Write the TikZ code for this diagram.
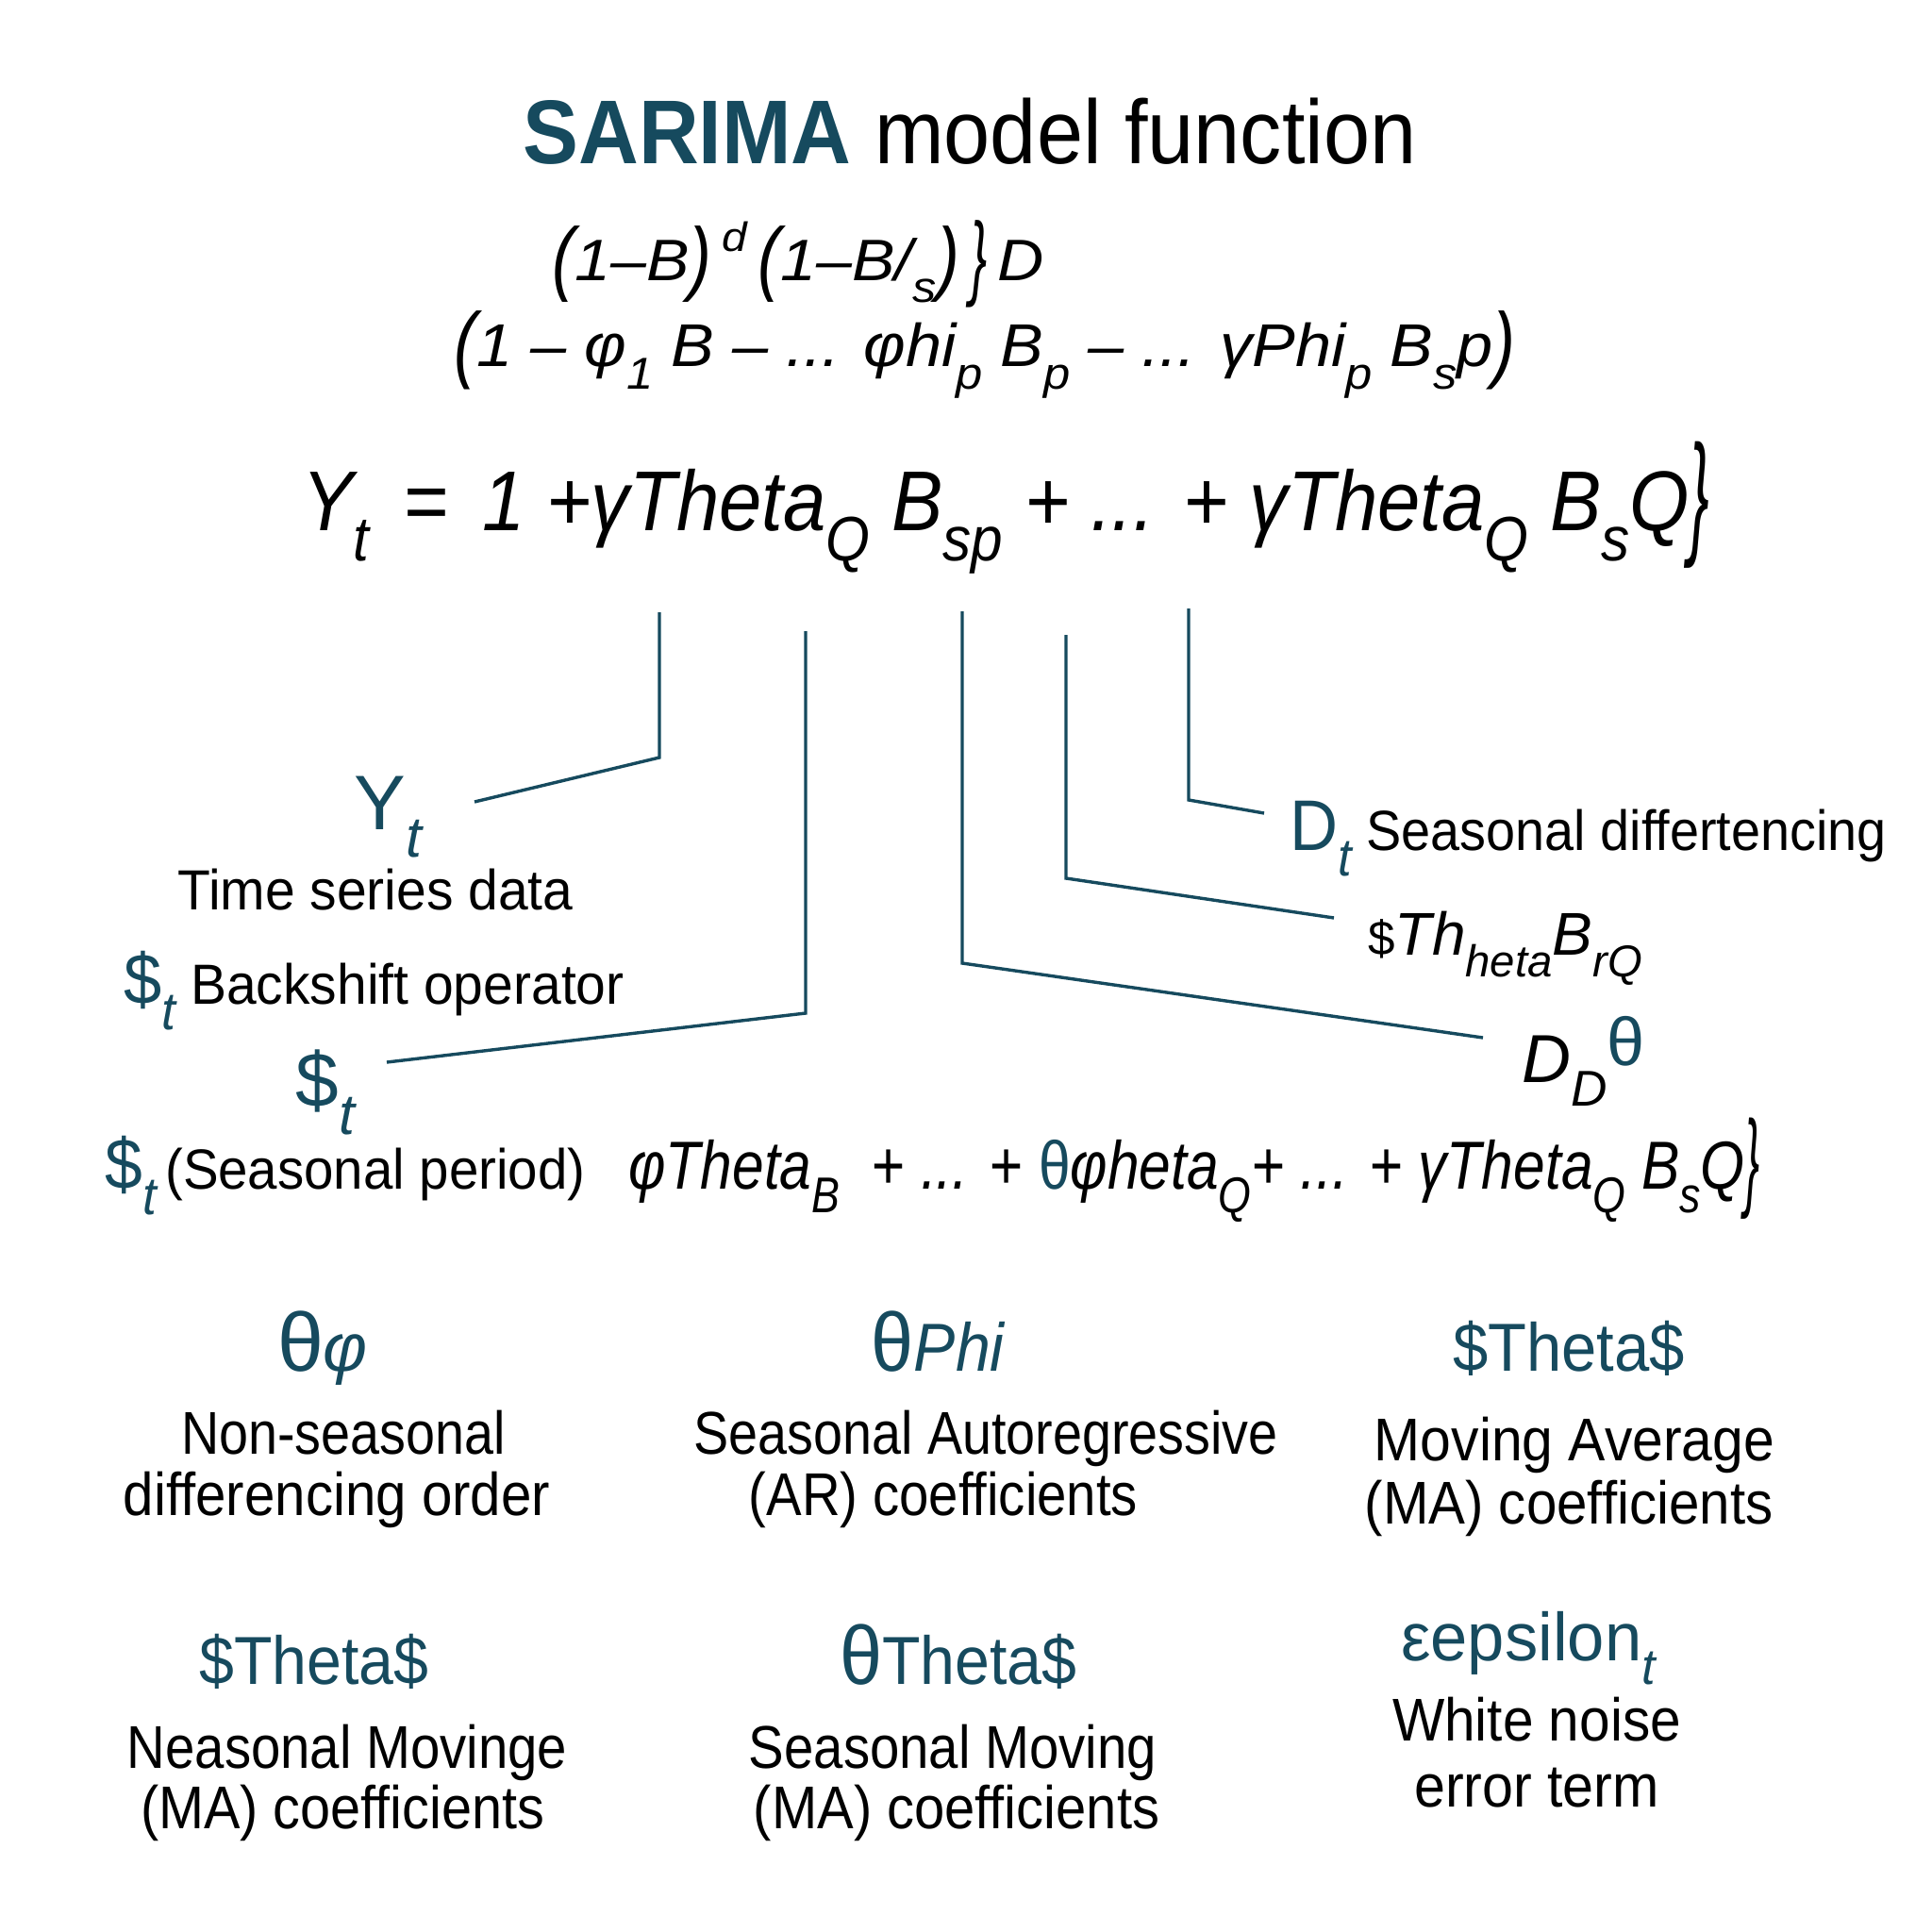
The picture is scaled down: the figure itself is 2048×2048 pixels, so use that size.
\documentclass[tikz,border=0pt]{standalone}
\usepackage{fontspec}
\setmainfont{Liberation Sans}
\usepackage{graphicx}
\definecolor{ink}{HTML}{164A5E}
\newcommand{\dn}[1]{\raisebox{-0.36em}{\scalebox{0.74}{#1}}}
\newcommand{\upp}[1]{\raisebox{0.5em}{\scalebox{0.7}{#1}}}
\newcommand{\tp}[1]{\raisebox{-0.08em}{\scalebox{1.05}[1.4]{#1}}}
\newcommand{\tbrace}{\raisebox{-0.12em}{\scalebox{0.8}[1.6]{\}}}}
\newcommand{\hs}[2]{\scalebox{#1}[1]{#2}}
\tikzset{
  conn/.style={draw=ink, line width=1.7pt, line join=miter},
  txt/.style={inner sep=0pt, anchor=base, font=\fontsize{30}{36}\selectfont},
  desc/.style={inner sep=0pt, anchor=base, font=\fontsize{32}{38}\selectfont},
  sym/.style={inner sep=0pt, anchor=base, text=ink, font=\fontsize{36}{42}\selectfont},
  fml/.style={inner sep=0pt, anchor=base west, font=\itshape},
}
\begin{document}
\begin{tikzpicture}[x=0.5pt,y=-0.5pt]
\useasboundingbox (0,0) rectangle (2048,2048);
\fill[white] (0,0) rectangle (2048,2048);

% title
\node[inner sep=0pt, anchor=base, font=\fontsize{48}{56}\selectfont] (title) at (1028,174)
  {\hs{0.92}{\textcolor{ink}{\bfseries SARIMA} model function}};

% formulas
\node[fml, font=\fontsize{31}{37}\selectfont\itshape] (f1) at (585,298)
  {\hs{1.1}{\tp{(}1–B\tp{)}\,\upp{d}\,\tp{(}1–B/\dn{s}\tp{)}\,\tbrace\,D}};
\node[fml, font=\fontsize{32}{38}\selectfont\itshape] (f2) at (481,389)
  {\hs{1.07}{\tp{(}1 – φ\dn{1} B – ... φhi\dn{p} B\dn{p} – ... γPhi\dn{p} B\dn{s}p\tp{)}}};
\node[fml, font=\fontsize{45}{52}\selectfont\itshape] (f3) at (320,562)
  {\hs{0.905}{Y\dn{t} \,=\, 1 +γTheta\dn{Q} B\dn{sp} + ... + γTheta\dn{Q} B\dn{s}Q\tbrace}};
\node[fml, font=\fontsize{36}{42}\selectfont\itshape] (f4) at (666,1260)
  {\hs{0.84}{φTheta\dn{B}\ \ + ... + \textcolor{ink}{\upshape θ}φheta\dn{Q}+ ... + γTheta\dn{Q} B\dn{s}Q\tbrace}};

% connector ends
\coordinate (a1) at (699,649); \coordinate (b1) at (699,803); \coordinate (e1) at (503,850);
\coordinate (a2) at (854,669); \coordinate (b2) at (854,1074); \coordinate (e2) at (410,1126);
\coordinate (a3) at (1020,648); \coordinate (b3) at (1020,1021); \coordinate (e3) at (1572,1100);
\coordinate (a4) at (1130,673); \coordinate (b4) at (1130,931); \coordinate (e4) at (1414,973);
\coordinate (a5) at (1260,645); \coordinate (b5) at (1260,848); \coordinate (e5) at (1340,862);
\draw[conn] (a1) -- (b1) -- (e1);
\draw[conn] (a2) -- (b2) -- (e2);
\draw[conn] (a3) -- (b3) -- (e3);
\draw[conn] (a4) -- (b4) -- (e4);
\draw[conn] (a5) -- (b5) -- (e5);

% left labels
\node[sym, anchor=base west, font=\fontsize{41}{48}\selectfont] (yt) at (375,879) {Y\dn{\itshape t}};
\node[txt] (tsd) at (398,964) {\hs{0.95}{Time series data}};
\node[txt, anchor=base west] (bso) at (131,1064)
  {\hs{0.95}{\textcolor{ink}{\fontsize{38}{44}\selectfont\$\dn{\itshape t}} Backshift operator}};
\node[sym, anchor=base west, font=\fontsize{41}{48}\selectfont] (st) at (313,1173) {\$\dn{\itshape t}};
\node[txt, anchor=base west] (ssp) at (111,1260)
  {\hs{0.94}{\textcolor{ink}{\fontsize{38}{44}\selectfont\$\dn{\itshape t}}\,(Seasonal period)}};

% right labels
\node[txt, anchor=base west] (dt) at (1367,901)
  {\hs{0.93}{\textcolor{ink}{\fontsize{38}{44}\selectfont D\dn{\itshape t}} Seasonal differtencing}};
\node[txt, anchor=base west, font=\fontsize{32}{38}\selectfont] (thb) at (1450,1012)
  {\scalebox{0.8}{\$}\textit{Th}\dn{\textit{heta}}\textit{B}\dn{\textit{rQ}}};
\node[txt, anchor=base west, font=\fontsize{36}{42}\selectfont] (ddt) at (1613,1147)
  {\textit{D}\dn{\textit{D}}\textcolor{ink}{\raisebox{0.25em}{θ}}};

% grid row 1
\node[sym] (s11) at (342,1453) {{\fontsize{44}{50}\selectfont θ}\textit{φ}};
\node[sym] (s12) at (995,1453) {\hs{0.92}{{\fontsize{44}{50}\selectfont θ}\textit{Phi}}};
\node[sym] (s13) at (1663,1453) {\hs{0.93}{\$Theta\$}};
\node[desc] (d11a) at (364,1541) {\hs{0.87}{Non-seasonal}};
\node[desc] (d11b) at (357,1606) {\hs{0.91}{differencing order}};
\node[desc] (d12a) at (1045,1541) {\hs{0.87}{Seasonal Autoregressive}};
\node[desc] (d12b) at (1000,1606) {\hs{0.88}{(AR) coefficients}};
\node[desc] (d13a) at (1669,1548) {\hs{0.92}{Moving Average}};
\node[desc] (d13b) at (1663,1615) {\hs{0.91}{(MA) coefficients}};

% grid row 2
\node[sym] (s21) at (333,1785) {\hs{0.92}{\$Theta\$}};
\node[sym] (s22) at (1016,1785) {\hs{0.92}{{\fontsize{44}{50}\selectfont θ}Theta\$}};
\node[sym] (s23) at (1620,1760) {\hs{0.98}{εepsilon\dn{\itshape t}}};
\node[desc] (d21a) at (368,1874) {\hs{0.88}{Neasonal Movinge}};
\node[desc] (d21b) at (363,1938) {\hs{0.9}{(MA) coefficients}};
\node[desc] (d22a) at (1010,1874) {\hs{0.88}{Seasonal Moving}};
\node[desc] (d22b) at (1014,1938) {\hs{0.905}{(MA) coefficients}};
\node[desc] (d23a) at (1629,1845) {\hs{0.915}{White noise}};
\node[desc] (d23b) at (1629,1915) {\hs{0.925}{error term}};
\end{tikzpicture}
\end{document}
